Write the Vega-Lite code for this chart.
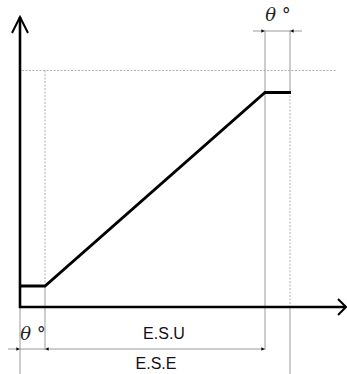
{
  "$schema": "https://vega.github.io/schema/vega-lite/v6.json",
  "width": 347,
  "height": 374,
  "padding": 0,
  "autosize": {"type": "none"},
  "background": "white",
  "config": {"view": {"stroke": null}},
  "datasets": {
    "segments": [
      {"x": 20, "y": 17, "x2": 20, "y2": 308, "kind": "axis"},
      {"x": 19, "y": 307, "x2": 346, "y2": 307, "kind": "axis"},
      {"x": 22, "y": 70.5, "x2": 337, "y2": 70.5, "kind": "dashed"},
      {"x": 45, "y": 70.5, "x2": 45, "y2": 286, "kind": "dashed"},
      {"x": 290, "y": 92, "x2": 290, "y2": 307, "kind": "dashed"},
      {"x": 20, "y": 307, "x2": 20, "y2": 374, "kind": "guide"},
      {"x": 45, "y": 286, "x2": 45, "y2": 350, "kind": "guide"},
      {"x": 265, "y": 30, "x2": 265, "y2": 350, "kind": "guide"},
      {"x": 290, "y": 30, "x2": 290, "y2": 92, "kind": "guide"},
      {"x": 290, "y": 307, "x2": 290, "y2": 374, "kind": "guide"},
      {"x": 8, "y": 349, "x2": 265, "y2": 349, "kind": "guide"},
      {"x": 253, "y": 31, "x2": 302, "y2": 31, "kind": "guide"}
    ],
    "curve": [
      {"x": 20, "y": 286, "order": 1},
      {"x": 45, "y": 286, "order": 2},
      {"x": 265, "y": 92.5, "order": 3},
      {"x": 291, "y": 92.5, "order": 4}
    ],
    "heads": [
      {"x": 12, "y": 33, "order": 1, "head": "up"},
      {"x": 20, "y": 17, "order": 2, "head": "up"},
      {"x": 28, "y": 33, "order": 3, "head": "up"},
      {"x": 338, "y": 299, "order": 1, "head": "right"},
      {"x": 346, "y": 307, "order": 2, "head": "right"},
      {"x": 338, "y": 315, "order": 3, "head": "right"}
    ],
    "ticks": [
      {"x": 20, "y": 349, "dir": "right"},
      {"x": 45, "y": 349, "dir": "left"},
      {"x": 265, "y": 349, "dir": "right"},
      {"x": 265, "y": 31, "dir": "right"},
      {"x": 290, "y": 31, "dir": "left"}
    ],
    "labels": [
      {"x": 33, "y": 335, "text": "θ °", "kind": "theta"},
      {"x": 278, "y": 16, "text": "θ °", "kind": "theta"},
      {"x": 164, "y": 334, "text": "E.S.U", "kind": "name"},
      {"x": 156, "y": 364, "text": "E.S.E", "kind": "name"}
    ]
  },
  "encoding": {
    "x": {"field": "x", "type": "quantitative", "scale": {"domain": [0, 347], "nice": false, "zero": false}, "axis": null},
    "y": {"field": "y", "type": "quantitative", "scale": {"domain": [0, 374], "nice": false, "zero": false, "reverse": true}, "axis": null}
  },
  "layer": [
    {
      "data": {"name": "segments"},
      "transform": [{"filter": "datum.kind === 'dashed'"}],
      "mark": {"type": "rule", "stroke": "#b0b0b0", "strokeWidth": 1, "strokeDash": [2, 1.5]},
      "encoding": {"x2": {"field": "x2"}, "y2": {"field": "y2"}}
    },
    {
      "data": {"name": "segments"},
      "transform": [{"filter": "datum.kind === 'guide'"}],
      "mark": {"type": "rule", "stroke": "#9a9a9a", "strokeWidth": 1},
      "encoding": {"x2": {"field": "x2"}, "y2": {"field": "y2"}}
    },
    {
      "data": {"name": "segments"},
      "transform": [{"filter": "datum.kind === 'axis'"}],
      "mark": {"type": "rule", "stroke": "#000000", "strokeWidth": 2.6},
      "encoding": {"x2": {"field": "x2"}, "y2": {"field": "y2"}}
    },
    {
      "data": {"name": "heads"},
      "mark": {"type": "line", "stroke": "#000000", "strokeWidth": 2, "strokeJoin": "miter"},
      "encoding": {"detail": {"field": "head"}, "order": {"field": "order", "type": "quantitative"}}
    },
    {
      "data": {"name": "curve"},
      "mark": {"type": "line", "stroke": "#000000", "strokeWidth": 2.8, "strokeJoin": "miter"},
      "encoding": {"order": {"field": "order", "type": "quantitative"}}
    },
    {
      "data": {"name": "ticks"},
      "transform": [{"filter": "datum.dir === 'right'"}],
      "mark": {"type": "point", "shape": "triangle-right", "filled": true, "color": "#000000", "size": 14, "xOffset": -2, "opacity": 1}
    },
    {
      "data": {"name": "ticks"},
      "transform": [{"filter": "datum.dir === 'left'"}],
      "mark": {"type": "point", "shape": "triangle-left", "filled": true, "color": "#000000", "size": 14, "xOffset": 2, "opacity": 1}
    },
    {
      "data": {"name": "labels"},
      "transform": [{"filter": "datum.kind === 'theta'"}],
      "mark": {"type": "text", "font": "DejaVu Serif", "fontStyle": "italic", "fontSize": 18, "color": "#222222", "align": "center", "baseline": "middle"},
      "encoding": {"text": {"field": "text"}}
    },
    {
      "data": {"name": "labels"},
      "transform": [{"filter": "datum.kind === 'name'"}],
      "mark": {"type": "text", "font": "Liberation Sans", "fontSize": 16, "color": "#111111", "align": "center", "baseline": "middle"},
      "encoding": {"text": {"field": "text"}}
    }
  ]
}
